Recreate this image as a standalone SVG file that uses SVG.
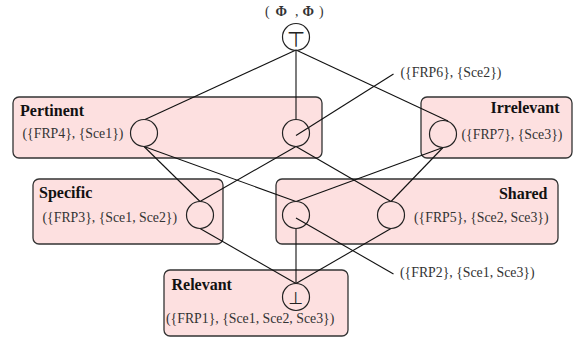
<svg xmlns="http://www.w3.org/2000/svg" width="579" height="341" viewBox="0 0 579 341">
<style>
.box{fill:#fde0e0;stroke:#333;stroke-width:1.3}
.nd{fill:none;stroke:#222;stroke-width:1.2}
.edge{stroke:#111;stroke-width:1.1;fill:none}
.lbl{font-size:13.8px;fill:#333}
.ttl{font-size:16px;font-weight:bold;fill:#111}
.sym{fill:#222;text-anchor:middle}
</style>
<rect width="579" height="341" fill="#fff"/>
<g font-family="'Liberation Serif', 'Times New Roman', Times, serif">
<g id="box-pertinent"><rect class="box" x="13" y="97" width="309" height="61" rx="6"/><text class="ttl" x="20" y="115.5">Pertinent</text></g>
<g id="box-irrelevant"><rect class="box" x="421" y="97" width="151" height="61" rx="6"/><text class="ttl" x="559.5" y="113" text-anchor="end">Irrelevant</text></g>
<g id="box-specific"><rect class="box" x="33" y="179" width="190" height="65" rx="6"/><text class="ttl" x="39" y="198">Specific</text></g>
<g id="box-shared"><rect class="box" x="276" y="179" width="282" height="65" rx="6"/><text class="ttl" x="547.5" y="199" text-anchor="end">Shared</text></g>
<g id="box-relevant"><rect class="box" x="164" y="270" width="184" height="66" rx="6"/><text class="ttl" x="171.5" y="290">Relevant</text></g>
<g id="connectors">
<line class="edge" x1="296" y1="50" x2="145" y2="119.5"/>
<line class="edge" x1="296" y1="50" x2="296" y2="119.5"/>
<line class="edge" x1="296" y1="50" x2="448" y2="121"/>
<line class="edge" x1="144" y1="146.5" x2="200" y2="201.5"/>
<line class="edge" x1="144" y1="146.5" x2="296" y2="201.5"/>
<line class="edge" x1="296" y1="146.5" x2="200" y2="201.5"/>
<line class="edge" x1="296" y1="146.5" x2="391" y2="201.5"/>
<line class="edge" x1="443" y1="147.5" x2="296" y2="201.5"/>
<line class="edge" x1="443" y1="147.5" x2="391" y2="201.5"/>
<line class="edge" x1="200" y1="228.5" x2="296" y2="283.5"/>
<line class="edge" x1="296" y1="228.5" x2="296" y2="283.5"/>
<line class="edge" x1="391" y1="228.5" x2="296" y2="283.5"/>
<line class="edge" x1="393.5" y1="74" x2="296" y2="135.5"/>
<line class="edge" x1="296" y1="218" x2="393.5" y2="274"/>
</g>
<g id="n-top"><circle class="nd" cx="296" cy="37" r="13.5"/><text class="sym" x="296" y="46.5" font-size="21" font-family="'DejaVu Sans', sans-serif">⊤</text><text class="lbl" y="16" font-weight="bold"><tspan x="265" font-weight="normal">(</tspan><tspan x="275.5">Φ</tspan><tspan x="295" font-weight="normal">,</tspan><tspan x="302.5">Φ</tspan><tspan x="319" font-weight="normal">)</tspan></text></g>
<g id="n-frp4"><circle class="nd" cx="144" cy="133" r="13.5"/><text class="lbl" x="22.5" y="138">({FRP4}, {Sce1})</text></g>
<g id="n-frp6"><circle class="nd" cx="296" cy="133" r="13.5"/><text class="lbl" x="400.5" y="77">({FRP6}, {Sce2})</text></g>
<g id="n-frp7"><circle class="nd" cx="443" cy="134" r="13.5"/><text class="lbl" x="461.5" y="139">({FRP7}, {Sce3})</text></g>
<g id="n-frp3"><circle class="nd" cx="200" cy="215" r="13.5"/><text class="lbl" x="42.5" y="221.5">({FRP3}, {Sce1, Sce2})</text></g>
<g id="n-frp2"><circle class="nd" cx="296" cy="215" r="13.5"/><text class="lbl" x="400" y="277">({FRP2}, {Sce1, Sce3})</text></g>
<g id="n-frp5"><circle class="nd" cx="391" cy="215" r="13.5"/><text class="lbl" x="414" y="221.5">({FRP5}, {Sce2, Sce3})</text></g>
<g id="n-bottom"><circle class="nd" cx="296" cy="297" r="13.5"/><text class="sym" x="296" y="303.5" font-size="17" font-family="'DejaVu Sans', sans-serif">⊥</text><text class="lbl" x="166" y="323">({FRP1}, {Sce1, Sce2, Sce3})</text></g>
</g>
</svg>
